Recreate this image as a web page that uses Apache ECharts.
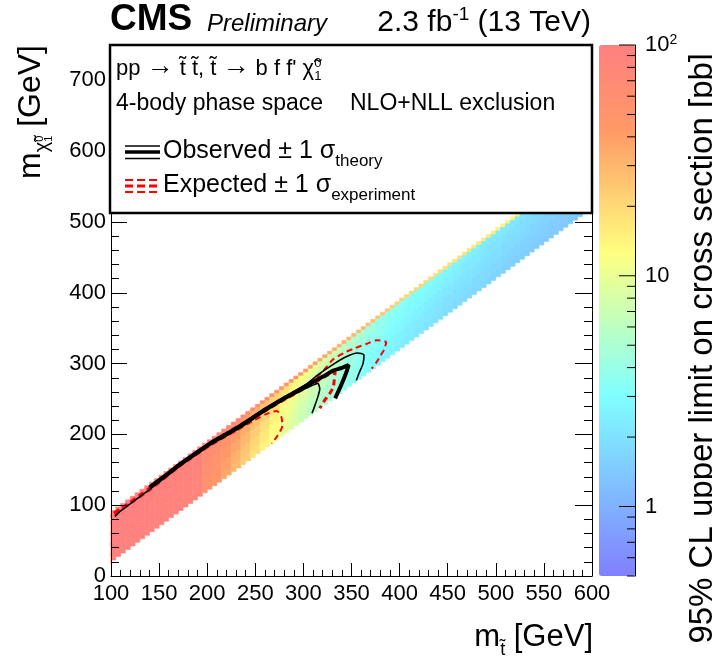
<!DOCTYPE html>
<html>
<head>
<meta charset="utf-8">
<script src="https://cdn.jsdelivr.net/npm/echarts@6/dist/echarts.min.js"></script>
<style>
  html, body { margin: 0; padding: 0; background: #fff; }
  #chart { width: 712px; height: 664px; }
</style>
</head>
<body>
<div id="chart"></div>
<script>
const FONT = '"Liberation Sans", Arial, Helvetica, sans-serif';

// Stop mass column centres (GeV); each column is 10 GeV wide
const mStop = [100,110,120,130,140,150,160,170,180,190,
               200,210,220,230,240,250,260,270,280,290,
               300,310,320,330,340,350,360,370,380,390,
               400,410,420,430,440,450,460,470,480,490,
               500,510,520,530,540,550,560,570,580,590,600];

// Mass splitting rows, dm = m(stop) - m(LSP), edges in GeV
const dmEdges = [10, 15, 25, 40, 55, 70, 80];

// 95% CL upper limit on the cross section (pb), one list per dm row
const limitDm10to15 = [100,100,100,100,100,100,100,100,100,100,
                       90,85,80,75,70,65,60,56,52,47,
                       42,39,36,34,32,30,28,27,25,24,
                       22,21,20.5,20,19,18,17.5,17,16.5,16,
                       15,14.5,14,13.5,13,12.5,12,11.5,11,10.5,10];
const limitDm15to25 = [100,100,100,99,98,97,96,95,94,92,
                       72,64,56,48,40,33,27,22,18,14.5,
                       12,10,8.4,7.2,6.2,5.4,4.8,4.3,3.9,3.6,
                       3.4,3.2,3.0,2.9,2.8,2.7,2.6,2.5,2.4,2.3,
                       2.25,2.2,2.15,2.1,2.05,2.0,1.95,1.9,1.85,1.82,1.8];
const limitDm25to40 = [100,100,100,98,97,96,95,94,92,90,
                       66,58,50,42,34,27,22,18,14.5,12,
                       10,8.5,7.2,6.2,5.4,4.8,4.3,3.9,3.6,3.3,
                       3.1,2.9,2.8,2.7,2.6,2.5,2.4,2.3,2.2,2.1,
                       2.05,2.0,1.95,1.9,1.85,1.8,1.75,1.72,1.7,1.68,1.65];
const limitDm40to55 = [100,99,98,97,96,95,94,93,91,89,
                       60,52,44,36,29,23,18.5,15,12,10,
                       8.5,7.2,6.2,5.4,4.8,4.2,3.8,3.4,3.2,3.0,
                       2.8,2.6,2.5,2.4,2.3,2.2,2.1,2.05,2.0,1.95,
                       1.9,1.85,1.8,1.75,1.7,1.65,1.6,1.58,1.55,1.52,1.5];
const limitDm55to70 = [98,97,96,95,94,93,92,91,90,88,
                       56,47,39,32,25,20,16,13,10.5,8.8,
                       7.4,6.4,5.5,4.8,4.3,3.8,3.4,3.1,2.9,2.7,
                       2.55,2.4,2.3,2.2,2.1,2.0,1.95,1.9,1.85,1.8,
                       1.75,1.7,1.65,1.6,1.58,1.55,1.5,1.48,1.45,1.42,1.4];
const limitDm70to80 = [96,95,94,93,92,91,90,89,88,86,
                       52,44,36,29,23,18,14.5,12,9.8,8.2,
                       6.9,6,5.2,4.5,4,3.6,3.2,2.9,2.7,2.55,
                       2.4,2.3,2.2,2.1,2.0,1.9,1.85,1.8,1.75,1.7,
                       1.65,1.6,1.55,1.52,1.5,1.47,1.45,1.42,1.4,1.38,1.35];
const limitRows = [limitDm10to15, limitDm15to25, limitDm25to40,
                   limitDm40to55, limitDm55to70, limitDm70to80];

// Exclusion contours, points are [m(stop), m(LSP)] in GeV
const observed = [[140,125],[156,141],[172,158],[188,173],[203,187],[218,199],[234,211],
  [255,230],[276,248],[293,261],[310,274],[322,283],[331,290],[340,294],[347,298],[345,289],[340,272],[333,251]];
const observedDown = [[104,84],[110,92],[117,99],[124,106],[131,113],[140,122],[156,139],
  [172,156],[188,171],[203,185],[220,198],[240,215],[260,233],[280,249],[298,262],[309,269],
  [315,272],[317,264],[315,253],[312,241],[309,230]];
const observedUp = [[140,127],[156,143],[172,160],[188,175],[203,189],[220,202],[240,219],
  [260,237],[280,253],[300,268],[316,285],[331,299],[345,310],[356,315],[363,312],[362,300],
  [358,287],[355,276]];
const expected = [[103,89],[110,95],[120,104],[130,114],[140,124],[156,140],[172,157],
  [188,172],[203,186],[220,199],[240,216],[260,233],[280,249],[300,264],[314,275],[324,283],
  [333,288],[332,276],[331,267],[327,257],[322,248],[317,237]];
const expectedUp = [[140,126],[172,159],[203,188],[240,219],[280,252],[310,276],[322,292],
  [331,306],[342,315],[354,322],[366,328],[376,333],[386,330],[384,320],[380,311],[376,302],[371,293]];
const expectedDown = [[104,86],[120,102],[140,121],[172,155],[203,184],[230,205],[250,221],
  [262,229],[272,233],[277,225],[278,212],[273,198],[267,187]];

// Colour scale range (pb) and tick marks
const zMin = 0.5, zMax = 100;
const colorbarTicks = [0.5,0.6,0.7,0.8,0.9,1,2,3,4,5,6,7,8,9,10,20,30,40,50,60,70,80,90,100];
const colorbarMajor = [1, 10, 100];

// ---------- palette: blue -> cyan -> yellow -> orange -> pink ----------
const paletteStops = [
  [0.00, [128,128,255]],
  [0.34, [128,255,255]],
  [0.61, [255,255,128]],
  [0.84, [255,153,102]],
  [1.00, [255,128,128]]
];
function paletteAt(f) {
  for (let i = 1; i < paletteStops.length; i++) {
    const [f1, c1] = paletteStops[i];
    const [f0, c0] = paletteStops[i - 1];
    if (f <= f1) {
      const t = (f - f0) / (f1 - f0);
      const c = c0.map((v, k) => Math.round(v + (c1[k] - v) * t));
      return `rgb(${c[0]},${c[1]},${c[2]})`;
    }
  }
  const c = paletteStops[paletteStops.length - 1][1];
  return `rgb(${c[0]},${c[1]},${c[2]})`;
}
const paletteColors = [];
for (let i = 0; i <= 100; i++) paletteColors.push(paletteAt(i / 100));

// ---------- heatmap cells: [mStopLo, mStopHi, mLspLo, mLspHi, log10(limit)] ----------
const cells = [];
limitRows.forEach((row, r) => {
  const dLo = dmEdges[r], dHi = dmEdges[r + 1];
  mStop.forEach((m, i) => {
    cells.push([m - 5, m + 5, m - dHi, m - dLo, Math.log10(row[i])]);
  });
});

// Each 10 GeV column is drawn as a two-step stair so that the cell follows the diagonal
function renderCell(params, api) {
  const x0 = api.value(0), x1 = api.value(1);
  const y0 = api.value(2), y1 = api.value(3);
  const xm = (x0 + x1) / 2, h = (x1 - x0) / 4;
  const pts = [
    [x0, y1 - h], [xm, y1 - h], [xm, y1 + h], [x1, y1 + h],
    [x1, y0 + h], [xm, y0 + h], [xm, y0 - h], [x0, y0 - h]
  ].map(p => api.coord(p));
  const cs = params.coordSys;
  const clipped = echarts.graphic.clipPointsByRect(pts, { x: cs.x, y: cs.y, width: cs.width, height: cs.height });
  const c = api.visual('color');
  return { type: 'polygon', shape: { points: clipped }, style: { fill: c, stroke: c, lineWidth: 0.6 } };
}

function renderColorTick(params, api) {
  const v = api.value(1);
  const p = api.coord([0, v]);
  const xr = params.coordSys.x + params.coordSys.width;
  const len = colorbarMajor.indexOf(v) >= 0 ? 16 : 8;
  return { type: 'line', shape: { x1: xr - len, y1: p[1], x2: xr, y2: p[1] },
           style: { stroke: '#000', lineWidth: 1 } };
}

// ---------- text helpers (mixed sizes, sub/superscripts) ----------
const mctx = document.createElement('canvas').getContext('2d');
function fontOf(s) {
  return `${s.italic ? 'italic ' : ''}${s.bold ? 'bold ' : ''}${s.size}px ${FONT}`;
}
function measure(t, s) { mctx.font = fontOf(s); return mctx.measureText(t).width; }
function textEl(t, x, baseline, s, z) {
  return { type: 'text', x: x, y: baseline - 0.3465 * s.size, z: z, silent: true,
    style: { text: t, font: fontOf(s), fill: s.color || '#000',
             textAlign: 'left', textVerticalAlign: 'middle', align: 'left', verticalAlign: 'middle' } };
}
function mathGroup(segs, opts) {
  const out = [];
  let x = 0;
  segs.forEach(s => {
    if (s.sup !== undefined) {
      const w = Math.max(measure(s.sup, s), measure(s.sub, s));
      out.push({ t: s.sup, x, b: -s.supRise, s });
      out.push({ t: s.sub, x, b: s.subDrop, s });
      x += w + (s.gap || 0);
    } else {
      out.push({ t: s.t, x, b: -(s.rise || 0), s });
      x += measure(s.t, s) + (s.gap || 0);
    }
  });
  const shift = opts.align === 'right' ? -x : 0;
  return {
    type: 'group', x: opts.x, y: opts.y, rotation: opts.rotation || 0,
    children: out.map(o => textEl(o.t, o.x + shift, o.b, o.s, opts.z || 60))
  };
}

// ---------- graphic overlay: header, legend box, axis titles ----------
const graphics = [
  textEl('CMS', 110, 33, { size: 37, bold: true }, 60),
  textEl('Preliminary', 207, 33, { size: 24, italic: true }, 60),
  mathGroup([{ t: '2.3 fb', size: 30 }, { t: '-1', size: 19, rise: 12 }, { t: ' (13 TeV)', size: 30 }],
            { x: 591, y: 33, align: 'right' }),
  { type: 'rect', z: 50, silent: true, shape: { x: 110, y: 45, width: 482, height: 168 },
    style: { fill: '#fff', stroke: '#000', lineWidth: 2.5 } },
  mathGroup([{ t: 'pp ', size: 22 }, { t: '\u2192', size: 27, rise: 1 },
             { t: ' t\u0303 t\u0303, t\u0303 ', size: 22 }, { t: '\u2192', size: 27, rise: 1 },
             { t: ' b f f\' \u03c7\u0303', size: 22 },
             { sup: '0', sub: '1', size: 13, supRise: 9, subDrop: 4 }],
            { x: 116, y: 77 }),
  textEl('4-body phase space', 116, 112, { size: 23 }, 60),
  textEl('NLO+NLL exclusion', 350, 112, { size: 23 }, 60),
  mathGroup([{ t: 'Observed \u00b1 1 \u03c3', size: 25 }, { t: 'theory', size: 17, rise: -7 }],
            { x: 163, y: 160 }),
  mathGroup([{ t: 'Expected \u00b1 1 \u03c3', size: 25 }, { t: 'experiment', size: 17, rise: -7 }],
            { x: 163, y: 194 }),
  // legend line samples
  { type: 'line', z: 60, shape: { x1: 125, y1: 146, x2: 160, y2: 146 }, style: { stroke: '#000', lineWidth: 1.5 } },
  { type: 'line', z: 60, shape: { x1: 125, y1: 152, x2: 160, y2: 152 }, style: { stroke: '#000', lineWidth: 3.5 } },
  { type: 'line', z: 60, shape: { x1: 125, y1: 158.5, x2: 160, y2: 158.5 }, style: { stroke: '#000', lineWidth: 1.5 } },
  { type: 'line', z: 60, shape: { x1: 125, y1: 180, x2: 160, y2: 180 }, style: { stroke: '#f00', lineWidth: 2, lineDash: [8, 4] } },
  { type: 'line', z: 60, shape: { x1: 125, y1: 186, x2: 160, y2: 186 }, style: { stroke: '#f00', lineWidth: 3, lineDash: [8, 4] } },
  { type: 'line', z: 60, shape: { x1: 125, y1: 192, x2: 160, y2: 192 }, style: { stroke: '#f00', lineWidth: 2, lineDash: [8, 4] } },
  // axis titles
  mathGroup([{ t: 'm', size: 31 }, { t: 't\u0303', size: 18, rise: -8 }, { t: ' [GeV]', size: 31 }],
            { x: 593, y: 648, align: 'right' }),
  mathGroup([{ t: 'm', size: 32 }, { t: '\u03c7\u0303', size: 20, rise: -7 },
             { sup: '0', sub: '1', size: 11, supRise: -2, subDrop: 11 }, { t: ' [GeV]', size: 32 }],
            { x: 42, y: 45, align: 'right', rotation: Math.PI / 2 }),
  mathGroup([{ t: '95% CL upper limit on cross section [pb]', size: 33 }],
            { x: 714, y: 53, align: 'right', rotation: Math.PI / 2 })
];

// ---------- chart ----------
const chart = echarts.init(document.getElementById('chart'), null, { renderer: 'canvas' });

const axisBlack = { color: '#000', width: 1 };
const mainY = (position, showLabel) => ({
  gridIndex: 0, type: 'value', position, min: 0, max: 750, interval: 100, z: 5,
  axisLine: { show: true, onZero: false, lineStyle: axisBlack },
  axisTick: { show: true, inside: true, length: position === 'left' ? 16 : 17, lineStyle: axisBlack },
  minorTick: { show: true, splitNumber: 5, length: 8, lineStyle: axisBlack },
  splitLine: { show: false }, minorSplitLine: { show: false },
  axisLabel: { show: showLabel, showMaxLabel: false, fontSize: 22, color: '#000', margin: 5, fontFamily: FONT }
});

chart.setOption({
  animation: false,
  backgroundColor: '#fff',
  textStyle: { fontFamily: FONT },
  grid: [
    { left: 111, top: 45, width: 481, height: 531, outerBoundsMode: 'none', containLabel: false },
    { left: 599, top: 45, width: 36, height: 531, outerBoundsMode: 'none', containLabel: false }
  ],
  xAxis: [
    { gridIndex: 0, type: 'value', min: 100, max: 600, interval: 50, z: 5,
      axisLine: { show: true, onZero: false, lineStyle: axisBlack },
      axisTick: { show: true, inside: true, length: 13, lineStyle: axisBlack },
      minorTick: { show: true, splitNumber: 5, length: 6, lineStyle: axisBlack },
      splitLine: { show: false }, minorSplitLine: { show: false },
      axisLabel: { fontSize: 22, color: '#000', margin: 7, fontFamily: FONT } },
    { gridIndex: 1, type: 'value', min: 0, max: 1, show: false }
  ],
  yAxis: [
    mainY('left', true),
    mainY('right', false),
    { gridIndex: 1, type: 'log', logBase: 10, min: zMin, max: zMax, position: 'right', z: 5,
      axisLine: { show: true, onZero: false, lineStyle: axisBlack },
      axisTick: { show: false }, splitLine: { show: false },
      axisLabel: { show: true, showMinLabel: false, margin: 10, fontSize: 22, color: '#000', fontFamily: FONT,
        formatter: v => (Math.abs(v - 100) < 1e-6 ? '10{sup|2}' : String(Math.round(v))),
        rich: { sup: { fontSize: 14, verticalAlign: 'top', padding: [0, 0, 10, 0], fontFamily: FONT, color: '#000' } } } }
  ],
  visualMap: {
    type: 'continuous', seriesIndex: 0, dimension: 4,
    min: Math.log10(zMin), max: Math.log10(zMax),
    inRange: { color: paletteColors },
    calculable: false, orient: 'vertical', left: 599, top: 45, padding: 0,
    itemWidth: 36, itemHeight: 531, text: null, showLabel: false, hoverLink: false
  },
  series: [
    { type: 'custom', name: 'limit', coordinateSystem: 'cartesian2d', xAxisIndex: 0, yAxisIndex: 0,
      renderItem: renderCell, data: cells, encode: { x: [0, 1], y: [2, 3] }, z: 1, silent: true },
    { type: 'line', xAxisIndex: 0, yAxisIndex: 0, data: expectedUp, symbol: 'none', smooth: 0.25, z: 3,
      lineStyle: { color: '#f00', width: 2, type: [6, 4] }, silent: true },
    { type: 'line', xAxisIndex: 0, yAxisIndex: 0, data: expectedDown, symbol: 'none', smooth: 0.25, z: 3,
      lineStyle: { color: '#f00', width: 2, type: [6, 4] }, silent: true },
    { type: 'line', xAxisIndex: 0, yAxisIndex: 0, data: expected, symbol: 'none', smooth: 0.25, z: 3,
      lineStyle: { color: '#f00', width: 3, type: [6, 4] }, silent: true },
    { type: 'line', xAxisIndex: 0, yAxisIndex: 0, data: observedUp, symbol: 'none', smooth: 0.25, z: 4,
      lineStyle: { color: '#000', width: 1.6 }, silent: true },
    { type: 'line', xAxisIndex: 0, yAxisIndex: 0, data: observedDown, symbol: 'none', smooth: 0.25, z: 4,
      lineStyle: { color: '#000', width: 1.6 }, silent: true },
    { type: 'line', xAxisIndex: 0, yAxisIndex: 0, data: observed, symbol: 'none', smooth: 0.2, z: 4,
      lineStyle: { color: '#000', width: 4 }, silent: true },
    { type: 'custom', coordinateSystem: 'cartesian2d', xAxisIndex: 1, yAxisIndex: 2,
      renderItem: renderColorTick, data: colorbarTicks.map(v => [0, v]), encode: { x: 0, y: 1 }, z: 6, silent: true }
  ],
  graphic: { elements: graphics }
});
</script>
</body>
</html>
